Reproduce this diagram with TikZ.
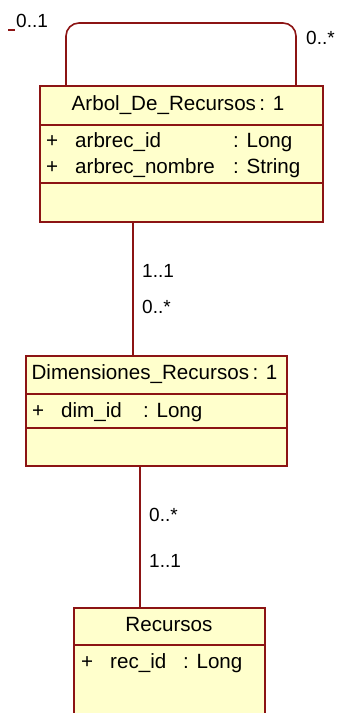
\documentclass[tikz,border=0pt]{standalone}
\usepackage{fontspec}
\setmainfont{Liberation Sans}
\definecolor{umlred}{RGB}{140,20,20}
\definecolor{umlfill}{RGB}{255,255,204}
\tikzset{
  cls/.style={draw=umlred, fill=umlfill, line width=1.6pt, rectangle, inner sep=0pt, anchor=north west},
  sep/.style={draw=umlred, line width=1.6pt},
  assoc/.style={draw=umlred, line width=1.6pt},
  txt/.style={inner sep=0pt, anchor=base west, font=\fontsize{20.6pt}{24pt}\selectfont},
  ctxt/.style={inner sep=0pt, anchor=base, font=\fontsize{20.6pt}{24pt}\selectfont},
  mtxt/.style={inner sep=0pt, anchor=base west, font=\fontsize{19pt}{23pt}\selectfont}
}
\begin{document}
\begin{tikzpicture}[x=1pt,y=-1pt]
\clip (0,0) rectangle (337,713);
\fill[white] (0,0) rectangle (337,713);
% classes
\node[cls, minimum width=283pt, minimum height=136pt] (arbol) at (39,85) {};
\node[cls, minimum width=261pt, minimum height=110pt] (dim) at (25,355) {};
\node[cls, minimum width=191pt, minimum height=140pt] (rec) at (73,607) {};
% separators
\draw[sep] (arbol.west |- 0,125) -- (323.5,125);
\draw[sep] (arbol.west |- 0,183) -- (323.5,183);
\draw[sep] (dim.west |- 0,394) -- (287.5,394);
\draw[sep] (dim.west |- 0,428) -- (287.5,428);
\draw[sep] (rec.west |- 0,645) -- (265.5,645);
% texts of Arbol
\node[ctxt] (arbolT) at (178,110) {Arbol\_De\_Recursos\,: 1};
\node[txt] (a1p) at (46,147) {+};
\node[txt] (a1n) at (75,147) {arbrec\_id};
\node[txt] (a1t) at (233,147) {: Long};
\node[txt] (a2p) at (46,173) {+};
\node[txt] (a2n) at (75,173) {arbrec\_nombre};
\node[txt] (a2t) at (233,173) {: String};
% texts of Dimensiones
\node[ctxt] (dimT) at (154.5,379) {Dimensiones\_Recursos\,: 1};
\node[txt] (d1p) at (32,417) {+};
\node[txt] (d1n) at (61,417) {dim\_id};
\node[txt] (d1t) at (143,417) {: Long};
% texts of Recursos
\node[ctxt] (recT) at (169,631) {Recursos};
\node[txt] (r1p) at (81,668) {+};
\node[txt] (r1n) at (110,668) {rec\_id};
\node[txt] (r1t) at (183,668) {: Long};
% self association
\coordinate (lx) at (66,0);
\coordinate (rx) at (296,0);
\coordinate (ltop) at (180,23);
\draw[assoc, rounded corners=13pt] (arbol.north -| lx) |- (ltop) -| (arbol.north -| rx);
\draw[umlred, line width=1.6pt] (8,30) -- (15,30);
\node[mtxt] (m01) at (16,27) {0..1};
\node[mtxt] (m0s) at (306,44) {0..*};
% association Arbol - Dimensiones
\coordinate (c1) at (133,0);
\draw[assoc] (arbol.south -| c1) -- (dim.north -| c1);
\node[mtxt] (m11a) at (142,277) {1..1};
\node[mtxt] (m0sa) at (142,313) {0..*};
% association Dimensiones - Recursos
\coordinate (c2) at (140,0);
\draw[assoc] (dim.south -| c2) -- (rec.north -| c2);
\node[mtxt] (m0sb) at (149,521) {0..*};
\node[mtxt] (m11b) at (149,567) {1..1};
\end{tikzpicture}
\end{document}
